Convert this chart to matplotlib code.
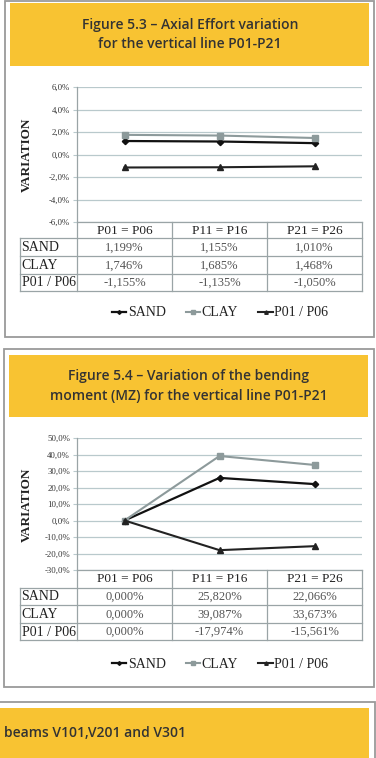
import matplotlib
matplotlib.use("Agg")
import matplotlib.pyplot as plt
from matplotlib.patches import Rectangle
from matplotlib.lines import Line2D

W, H = 376, 758

# ---------------- data ----------------
columns = ["P01 = P06", "P11 = P16", "P21 = P26"]
series_names = ["SAND", "CLAY", "P01 / P06"]

axial_sand = [1.199, 1.155, 1.010]
axial_clay = [1.746, 1.685, 1.468]
axial_p01 = [-1.155, -1.135, -1.050]
axial_ticks = [-6, -4, -2, 0, 2, 4, 6]

moment_sand = [0.000, 25.820, 22.066]
moment_clay = [0.000, 39.087, 33.673]
moment_p01 = [0.000, -17.974, -15.561]
moment_ticks = [-30, -20, -10, 0, 10, 20, 30, 40, 50]

title1 = "Figure 5.3 \u2013 Axial Effort variation\nfor the vertical line P01-P21"
title2 = "Figure 5.4 \u2013 Variation of the bending\nmoment (MZ) for the vertical line P01-P21"
title3 = "beams V101,V201 and V301"

YELLOW = "#F8C332"
BORDER = "#9a9a9a"
GRID = "#b9c9cc"
TABLE = "#9aa4a6"
SERIF = ["Liberation Serif", "DejaVu Serif"]
TITLEFONT = ["Open Sans", "DejaVu Sans"]

fig = plt.figure(figsize=(W / 100, H / 100), dpi=100)
fig.patch.set_facecolor("white")

bg = fig.add_axes([0, 0, 1, 1])
bg.set_xlim(0, W)
bg.set_ylim(H, 0)
bg.axis("off")


def rect(x0, y0, x1, y1, **kw):
    bg.add_patch(Rectangle((x0, y0), x1 - x0, y1 - y0, **kw))


def pix_axes(x0, y0, x1, y1):
    return fig.add_axes([x0 / W, 1 - y1 / H, (x1 - x0) / W, (y1 - y0) / H])


# panel frames and headers
rect(5, 0.5, 374, 337, facecolor="white", edgecolor=BORDER, lw=1.3)
rect(10, 3, 369, 66, facecolor=YELLOW, edgecolor="none")
bg.text(190, 34.5, title1, ha="center", va="center", fontsize=10,
        family=TITLEFONT, fontweight="semibold", color="#333333", linespacing=1.5)

rect(4, 349, 374, 687, facecolor="white", edgecolor=BORDER, lw=1.3)
rect(9, 355, 368, 417, facecolor=YELLOW, edgecolor="none")
bg.text(189, 386, title2, ha="center", va="center", fontsize=10,
        family=TITLEFONT, fontweight="semibold", color="#333333", linespacing=1.5)

rect(-5, 702, 375, 770, facecolor="white", edgecolor=BORDER, lw=1.3)
rect(0, 708, 369, 758, facecolor=YELLOW, edgecolor="none")
bg.text(4, 733, title3, ha="left", va="center", fontsize=10,
        family=TITLEFONT, fontweight="semibold", color="#333333")


def fmt(v):
    return f"{v:.3f}".replace(".", ",") + "%"


def tickfmt(v):
    return f"{v:.1f}".replace(".", ",") + "%"


def panel(ax_box, sand, clay, p01, ticks, row_y, legend_y, ylab_y):
    x0, y0, x1, y1 = ax_box
    ax = pix_axes(x0, y0, x1, y1)
    xs = list(range(len(columns)))
    ax.plot(xs, sand, color="#111111", lw=1.6, marker="D", ms=3.2, label=series_names[0])
    ax.plot(xs, clay, color="#8d9a9b", lw=1.5, marker="s", ms=4.2, label=series_names[1])
    ax.plot(xs, p01, color="#222222", lw=1.5, marker="^", ms=4.2, label=series_names[2])
    ax.set_xlim(-0.5, len(columns) - 0.5)
    ax.set_ylim(ticks[0], ticks[-1])
    ax.set_yticks(ticks)
    ax.set_yticklabels([tickfmt(t) for t in ticks], family=SERIF, fontsize=6.3, color="#333333")
    ax.set_xticks([])
    ax.grid(axis="y", color=GRID, lw=0.9)
    ax.set_axisbelow(True)
    for s in ["top", "right", "bottom"]:
        ax.spines[s].set_visible(False)
    ax.spines["left"].set_color(TABLE)
    ax.spines["left"].set_linewidth(0.9)
    ax.tick_params(axis="y", length=3, color=GRID, pad=2)
    ax.set_facecolor("none")

    bg.text(27, ylab_y, "VARIATION", rotation=90, ha="center", va="center",
            family=SERIF, fontsize=9.5, color="#222222", fontweight="bold")

    # table
    colx = [x0 + (x1 - x0) * i / len(columns) for i in range(len(columns) + 1)]
    lab_x = 20
    lc = dict(color=TABLE, lw=0.9)
    bg.add_line(Line2D([x0, x1], [row_y[0], row_y[0]], **lc))
    for yy in row_y[1:]:
        bg.add_line(Line2D([lab_x, x1], [yy, yy], **lc))
    for xx in colx:
        bg.add_line(Line2D([xx, xx], [row_y[0], row_y[-1]], **lc))
    bg.add_line(Line2D([lab_x, lab_x], [row_y[1], row_y[-1]], **lc))
    for i, c in enumerate(columns):
        cx = (colx[i] + colx[i + 1]) / 2
        bg.text(cx, (row_y[0] + row_y[1]) / 2 + 0.5, c, ha="center", va="center",
                family=SERIF, fontsize=9.5, color="#222222")
    for r, (name, vals) in enumerate(zip(series_names, [sand, clay, p01])):
        cy = (row_y[r + 1] + row_y[r + 2]) / 2 + 0.5
        bg.text(lab_x + 1.5, cy, name, ha="left", va="center", family=SERIF,
                fontsize=10, color="#222222")
        for i, v in enumerate(vals):
            cx = (colx[i] + colx[i + 1]) / 2
            bg.text(cx, cy, fmt(v), ha="center", va="center", family=SERIF,
                    fontsize=9, color="#555555")

    handles, labels = ax.get_legend_handles_labels()
    leg = fig.legend(handles, labels, loc="center", bbox_to_anchor=(220 / W, 1 - legend_y / H),
                     ncol=3, frameon=False, handlelength=1.05, handletextpad=0.1,
                     columnspacing=1.45, prop={"family": SERIF, "size": 10},
                     markerscale=0.6)
    for t in leg.get_texts():
        t.set_color("#222222")
    return ax


panel((77, 87, 362, 222), axial_sand, axial_clay, axial_p01, axial_ticks,
      [222, 238, 256, 274, 291], 313, 155)
panel((77, 438, 362, 570), moment_sand, moment_clay, moment_p01, moment_ticks,
      [570, 588, 605, 623, 640], 664, 505)

fig.savefig("out.png", dpi=100, facecolor="white")
